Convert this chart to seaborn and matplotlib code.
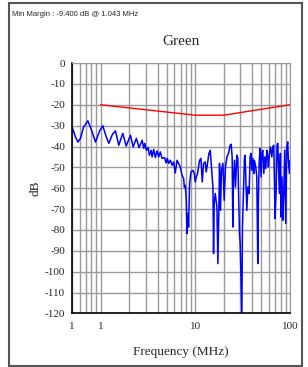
import numpy as np
import pandas as pd
import seaborn as sns
import matplotlib
matplotlib.use("Agg")
import matplotlib.pyplot as plt
from matplotlib.patches import Rectangle
from matplotlib.ticker import FixedLocator, NullFormatter

freq = [0.50, 0.545, 0.577, 0.616, 0.662, 0.735, 0.804, 0.886, 0.976, 1.057,
        1.143, 1.223, 1.337, 1.438, 1.559, 1.717, 1.865, 2.07, 2.21, 2.39,
        2.55, 2.75, 2.86, 2.93, 3.05, 3.18, 3.28, 3.42, 3.50, 3.64,
        3.79, 3.95, 4.11, 4.28, 4.46, 4.75, 4.92, 5.07, 5.24, 5.46,
        5.69, 5.91, 6.15, 6.42, 6.67, 6.95, 7.25, 7.53, 7.66, 7.85,
        8.04, 8.18, 8.38, 8.50, 8.71, 9.01, 9.46, 9.76, 10.0, 10.25,
        10.57, 11.10, 11.48, 11.85, 12.23, 12.74, 13.05, 13.47, 13.93, 14.39,
        14.73, 15.36, 15.59, 15.85, 16.24, 16.92, 17.33, 17.76, 18.03, 18.46,
        18.92, 19.58, 20.20, 20.84, 21.57, 22.42, 23.35, 23.92, 24.51, 24.93,
        25.3, 25.94, 26.56, 27.47, 28.13, 28.57, 29.27, 29.76, 31.04, 31.47,
        32.22, 33.03, 33.58, 34.43, 35.0, 35.9, 37.0, 37.9, 38.8, 39.5,
        40.5, 41.5, 42.1, 43.5, 44.6, 45.7, 46.4, 47.2, 48.3, 49.5,
        50.4, 51.6, 52.9, 54.2, 55.5, 56.9, 58.3, 59.1, 60.6, 62.1,
        64.2, 65.8, 67.3, 68.4, 69.5, 71.2, 73.0, 74.3, 75.3, 77.2,
        79.1, 80.4, 82.3, 83.8, 85.9, 87.9, 90.1, 92.3, 94.6, 96.0,
        98.4, 100.0]
level = [-30.5, -35.5, -37.9, -36.0, -30.7, -27.7, -32.2, -37.9, -32.6, -30.1,
         -35.0, -38.5, -34.1, -32.5, -39.4, -33.7, -39.8, -34.6, -40.2, -36.1,
         -40.5, -37.0, -40.9, -38.5, -41.8, -40.5, -44.2, -41.8, -45.0, -41.4,
         -45.3, -42.1, -45.0, -42.6, -45.7, -45.3, -47.9, -45.7, -48.1, -46.6,
         -49.0, -47.4, -52.7, -46.6, -48.1, -49.8, -53.8, -55.3, -59.4, -58.6,
         -65.8, -81.7, -72.1, -78.6, -57.7, -52.2, -51.4, -52.9, -57.0, -54.6,
         -52.9, -46.6, -45.7, -57.0, -48.1, -47.4, -52.2, -48.1, -43.3, -41.8,
         -48.1, -59.4, -91.3, -67.3, -62.5, -69.0, -96.1, -69.0, -48.1, -70.6,
         -51.4, -48.1, -65.8, -49.8, -45.0, -43.3, -39.4, -38.9, -45.0, -78.6,
         -56.2, -46.6, -59.4, -44.2, -45.7, -59.4, -81.7, -86.5, -120.0, -78.6,
         -62.5, -45.7, -44.2, -61.0, -70.6, -59.4, -62.5, -45.0, -43.3, -51.4,
         -45.7, -52.9, -46.6, -49.8, -54.6, -96.1, -65.8, -48.1, -40.9, -54.6,
         -43.3, -41.8, -52.9, -45.0, -50.5, -41.8, -45.7, -49.8, -43.3, -40.2,
         -45.0, -40.2, -39.4, -54.6, -74.5, -62.5, -39.4, -38.5, -46.6, -62.5,
         -43.3, -73.8, -54.6, -75.4, -62.5, -41.8, -76.9, -40.2, -37.8, -46.6,
         -52.9, -46.6]

# limit line
limit_freq = [1, 10, 20, 100]
limit_level = [-20, -25, -25, -20]

x_ticks = [0.5, 1, 10, 100]
x_labels = ["1", "1", "10", "100"]
y_ticks = list(range(-120, 1, 10))

trace = pd.DataFrame({"freq": freq, "level": level})
limit = pd.DataFrame({"freq": limit_freq, "level": limit_level})

sns.set_style("white")
plt.rcParams["font.family"] = ["Liberation Serif", "DejaVu Serif"]
plt.rcParams["axes.unicode_minus"] = False

fig = plt.figure(figsize=(3.08, 3.67), dpi=100)
ax = fig.add_axes([0.2338, 0.1458, 0.7078, 0.6825])

# window frame around the chart
fig.patches.append(Rectangle((9 / 308, 1 / 367), 293 / 308, 363 / 367,
                             transform=fig.transFigure, fill=False,
                             edgecolor="#555555", linewidth=1.5))

sns.lineplot(data=limit, x="freq", y="level", ax=ax, color="#ff0000",
             linewidth=1.0, estimator=None, sort=False)
sns.lineplot(data=trace, x="freq", y="level", ax=ax, color="#0000ff",
             linewidth=1.1, estimator=None, sort=False)

ax.set_xscale("log")
ax.set_xlim(0.5, 100)
ax.set_ylim(-120, 0)

minor = [v * d for d in (0.1, 1, 10) for v in range(2, 10) if 0.5 <= v * d < 100 and v * d not in (1, 10)]
ax.xaxis.set_major_locator(FixedLocator(x_ticks))
ax.set_xticklabels(x_labels)
ax.xaxis.set_minor_locator(FixedLocator(minor))
ax.xaxis.set_minor_formatter(NullFormatter())
ax.set_yticks(y_ticks)

ax.grid(True, which="both", color="#9a9a9a", linewidth=1.0)
ax.set_axisbelow(True)

ax.tick_params(axis="y", which="major", direction="inout", length=8, width=1,
               color="black", labelsize=8, pad=1)
ax.tick_params(axis="x", which="major", direction="inout", length=8, width=1,
               color="black", labelsize=8, pad=2)
ax.tick_params(axis="x", which="minor", direction="inout", length=5, width=1,
               color="black")

for side in ("top", "right"):
    ax.spines[side].set_color("#9a9a9a")
for side in ("left", "bottom"):
    ax.spines[side].set_color("black")
    ax.spines[side].set_linewidth(1.2)

ax.set_title("Green", fontsize=11, pad=13)
ax.set_xlabel("Frequency (MHz)", fontsize=9.5, labelpad=11)
ax.set_ylabel("dB", fontsize=9.5, labelpad=2)

fig.text(12 / 308, 1 - 14 / 367, "Min Margin : -9.400 dB @ 1.043 MHz",
         fontsize=5.5, family=["Liberation Sans", "DejaVu Sans"], va="center")

fig.savefig("out.png", dpi=100)
